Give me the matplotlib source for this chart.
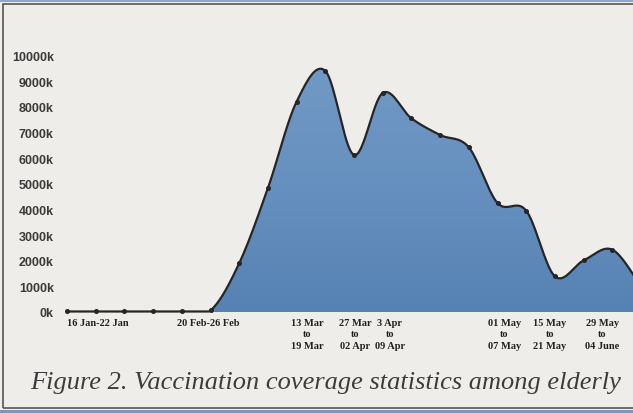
import numpy as np
import matplotlib
matplotlib.use("Agg")
import matplotlib.pyplot as plt
import matplotlib.transforms as mtransforms
from matplotlib.patches import Rectangle
from matplotlib.colors import LinearSegmentedColormap

# weekly doses among elderly, in thousands
weeks = ["16 Jan", "23 Jan", "30 Jan", "06 Feb", "13 Feb", "20 Feb", "27 Feb",
         "06 Mar", "13 Mar", "20 Mar", "27 Mar", "03 Apr", "10 Apr", "17 Apr",
         "24 Apr", "01 May", "08 May", "15 May", "22 May", "29 May", "05 Jun"]
doses_k = [20, 20, 20, 20, 20, 60, 1900, 4830, 8200, 9400, 6120, 8540, 7550,
           6900, 6420, 4250, 3950, 1390, 2010, 2430, 1000]

label_weeks = [0, 5, 8, 10, 11, 15, 17, 19]
label_texts = ["16 Jan-22 Jan", "20 Feb-26 Feb", "13 Mar\nto\n19 Mar",
               "27 Mar\nto\n02 Apr", "3 Apr\nto\n09 Apr", "01 May\nto\n07 May",
               "15 May\nto\n21 May", "29 May\nto\n04 June"]
y_ticks = list(range(0, 10001, 1000))
caption = "Figure 2. Vaccination coverage statistics among elderly"


def smooth(x, y, steps=20):
    # bezier smoothing the way spreadsheet "smoothed line" does it
    pts = np.column_stack([x, y]).astype(float)
    n = len(pts)
    out = []
    t = np.linspace(0, 1, steps)[:, None]
    for i in range(n - 1):
        p0 = pts[i - 1] if i > 0 else pts[i]
        p3 = pts[i + 2] if i + 2 < n else pts[i + 1]
        c1 = pts[i] + (pts[i + 1] - p0) / 6
        c2 = pts[i + 1] - (p3 - pts[i]) / 6
        seg = ((1 - t) ** 3 * pts[i] + 3 * (1 - t) ** 2 * t * c1
               + 3 * (1 - t) * t ** 2 * c2 + t ** 3 * pts[i + 1])
        out.append(seg if i == 0 else seg[1:])
    out = np.vstack(out)
    return out[:, 0], out[:, 1]


W, H = 633, 414
bg = "#eeede9"
fig = plt.figure(figsize=(W / 100, H / 100), dpi=100, facecolor=bg)

x0, step = 67, 28.7
ax = fig.add_axes([x0 / W, (H - 313) / H, (W - x0) / W, (313 - 56.5) / H])
ax.set_facecolor(bg)

x = np.arange(len(doses_k))
xs, ys = smooth(x, doses_k)
ys = np.maximum(ys, min(doses_k))  # no dip under the flat start

poly = ax.fill_between(xs, ys, 0, facecolor="none", edgecolor="none")
cmap = LinearSegmentedColormap.from_list("fill", ["#5682b3", "#6690bf", "#739ac6"])
grad = np.linspace(0, 1, 256)[:, None]
im = ax.imshow(grad, extent=[0, len(doses_k), 0, 10000], origin="lower",
               aspect="auto", cmap=cmap, zorder=1)
im.set_clip_path(poly.get_paths()[0], transform=ax.transData)

ax.plot(xs, ys, color="#262626", lw=1.6, zorder=3, clip_on=False)
ax.plot(x, doses_k, "o", color="#262626", ms=2.6, zorder=4, clip_on=False)

ax.set_xlim(0, (W - x0) / step)
ax.set_ylim(0, 10000)
for s in ax.spines.values():
    s.set_visible(False)

ax.set_yticks(y_ticks)
ax.set_yticklabels([f"{v}k" for v in y_ticks], fontfamily="Liberation Sans",
                   fontweight="bold", fontsize=9, color="#3a3a3a")
ax.set_xticks(label_weeks)
ax.set_xticklabels(label_texts, fontfamily="Liberation Serif", fontweight="bold",
                   fontsize=7.5, color="#222222", linespacing=1.4)
ax.tick_params(axis="y", length=0, pad=9.5)
ax.tick_params(axis="x", length=0, pad=4)

# the printed labels sit a little off their weeks
nudge_px = [0, -2, 11, 1, 7, 7, -5, -10]
for lab, dx in zip(ax.get_xticklabels(), nudge_px):
    lab.set_transform(lab.get_transform()
                      + mtransforms.ScaledTranslation(dx / 100, 0, fig.dpi_scale_trans))
ax.get_xticklabels()[0].set_ha("left")

fig.text(30 / W, (H - 389) / H, caption, ha="left", va="baseline",
         fontsize=19, fontstyle="italic", fontfamily="Liberation Serif",
         color="#3c3c3c")

# frame of the printed box
fig.add_artist(Rectangle((3 / W, (H - 409) / H), 1, (409 - 5) / H, fill=False,
                         edgecolor="#555555", lw=1.2, transform=fig.transFigure))
fig.add_artist(Rectangle((0, (H - 3) / H), 1, 3 / H, facecolor="#8aa6cc",
                         edgecolor="none", transform=fig.transFigure))
fig.add_artist(Rectangle((0, 0), 1, 3 / H, facecolor="#7d95b8",
                         edgecolor="none", transform=fig.transFigure))

fig.savefig("out.png", dpi=100, facecolor=bg)
